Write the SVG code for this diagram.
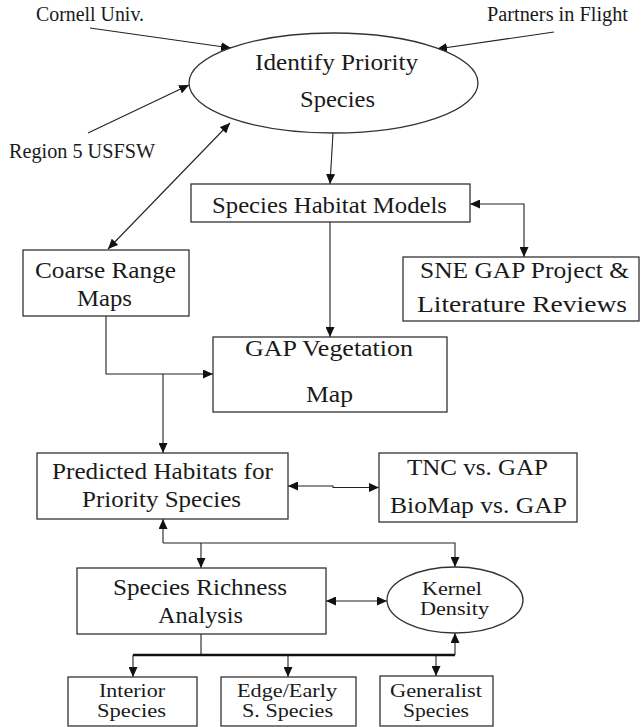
<svg xmlns="http://www.w3.org/2000/svg" width="641" height="727" viewBox="0 0 641 727">
<style>
.bx{fill:#fff;stroke:#333;stroke-width:1.3}
.c{fill:none;stroke:#222;stroke-width:1.1}
.b{fill:none;stroke:#111;stroke-width:2.6}
text{font-family:"Liberation Serif","Times New Roman",serif;fill:#1a1a1a}
.L{font-size:24px}
.M{font-size:18px}
.S{font-size:20px}
.K{font-size:18px}
</style>
<defs>
<marker id="ah" markerUnits="userSpaceOnUse" markerWidth="11" markerHeight="9" refX="10" refY="4.5" orient="auto-start-reverse">
<path d="M0,0 L10,4.5 L0,9 z" fill="#111"/>
</marker>
</defs>
<rect width="641" height="727" fill="#fff"/>

<g id="connectors">
<path class="c" d="M90,28 L231,48" marker-end="url(#ah)"/>
<path class="c" d="M554,32 L437,49" marker-end="url(#ah)"/>
<path class="c" d="M88,133 L189,85" marker-end="url(#ah)"/>
<path class="c" d="M108,249 L230,123" marker-start="url(#ah)" marker-end="url(#ah)"/>
<path class="c" d="M333,133 L330,184" marker-end="url(#ah)"/>
<path class="c" d="M470,204 H524 V257" marker-start="url(#ah)" marker-end="url(#ah)"/>
<path class="c" d="M330,222 V337" marker-end="url(#ah)"/>
<path class="c" d="M106,316 V374 H213" marker-end="url(#ah)"/>
<path class="c" d="M163,374 V453" marker-end="url(#ah)"/>
<path class="c" d="M288,486 H333 V487.5 H379" marker-start="url(#ah)" marker-end="url(#ah)"/>
<path class="c" d="M163,543 V519" marker-end="url(#ah)"/>
<path class="c" d="M163,543 H455 V567" marker-end="url(#ah)"/>
<path class="c" d="M201,543 V568" marker-end="url(#ah)"/>
<path class="c" d="M326,601 H387" marker-start="url(#ah)" marker-end="url(#ah)"/>
<path class="c" d="M201,634 V655"/>
<path class="b" d="M133,655 H455"/>
<path class="c" d="M455,655 V633" marker-end="url(#ah)"/>
<path class="c" d="M133,655 V677" marker-end="url(#ah)"/>
<path class="c" d="M288,655 V677" marker-end="url(#ah)"/>
<path class="c" d="M436,655 V676" marker-end="url(#ah)"/>
</g>

<g id="cornell"><text class="S" x="36" y="21" textLength="108" lengthAdjust="spacingAndGlyphs">Cornell Univ.</text></g>
<g id="partners"><text class="S" x="487" y="21" textLength="141" lengthAdjust="spacingAndGlyphs">Partners in Flight</text></g>
<g id="region5"><text class="S" x="9" y="158" textLength="146" lengthAdjust="spacingAndGlyphs">Region 5 USFSW</text></g>

<g id="identify">
<ellipse class="bx" cx="333.5" cy="83" rx="144.5" ry="50"/>
<text class="L" x="255" y="70" textLength="163" lengthAdjust="spacingAndGlyphs">Identify Priority</text>
<text class="L" x="300" y="107" textLength="75" lengthAdjust="spacingAndGlyphs">Species</text>
</g>

<g id="habitatModels">
<rect class="bx" x="191" y="184" width="279" height="38"/>
<text class="L" x="212" y="213" textLength="235" lengthAdjust="spacingAndGlyphs">Species Habitat Models</text>
</g>

<g id="coarse">
<rect class="bx" x="23" y="250" width="166" height="66"/>
<text class="L" x="35" y="278" textLength="141" lengthAdjust="spacingAndGlyphs">Coarse Range</text>
<text class="L" x="77" y="306" textLength="55" lengthAdjust="spacingAndGlyphs">Maps</text>
</g>

<g id="sne">
<rect class="bx" x="403" y="257" width="236" height="64"/>
<text class="L" x="420" y="278" textLength="209" lengthAdjust="spacingAndGlyphs">SNE GAP Project &amp;</text>
<text class="L" x="417" y="312" textLength="210" lengthAdjust="spacingAndGlyphs">Literature Reviews</text>
</g>

<g id="gapVeg">
<rect class="bx" x="213" y="337" width="234" height="75"/>
<text class="L" x="245" y="356" textLength="168" lengthAdjust="spacingAndGlyphs">GAP Vegetation</text>
<text class="L" x="306" y="402" textLength="47" lengthAdjust="spacingAndGlyphs">Map</text>
</g>

<g id="predicted">
<rect class="bx" x="37" y="453" width="251" height="66"/>
<text class="L" x="52" y="479" textLength="221" lengthAdjust="spacingAndGlyphs">Predicted Habitats for</text>
<text class="L" x="82" y="507" textLength="159" lengthAdjust="spacingAndGlyphs">Priority Species</text>
</g>

<g id="tnc">
<rect class="bx" x="379" y="453" width="198" height="69"/>
<text class="L" x="407" y="475" textLength="141" lengthAdjust="spacingAndGlyphs">TNC vs. GAP</text>
<text class="L" x="390" y="513" textLength="177" lengthAdjust="spacingAndGlyphs">BioMap vs. GAP</text>
</g>

<g id="richness">
<rect class="bx" x="77" y="568" width="249" height="66"/>
<text class="L" x="113" y="595" textLength="174" lengthAdjust="spacingAndGlyphs">Species Richness</text>
<text class="L" x="158" y="623" textLength="85" lengthAdjust="spacingAndGlyphs">Analysis</text>
</g>

<g id="kernel">
<ellipse class="bx" cx="455" cy="600" rx="68" ry="33"/>
<text class="K" x="422" y="595" textLength="60" lengthAdjust="spacingAndGlyphs">Kernel</text>
<text class="K" x="420" y="615" textLength="69" lengthAdjust="spacingAndGlyphs">Density</text>
</g>

<g id="interior">
<rect class="bx" x="68" y="677" width="129" height="49"/>
<text class="M" x="99" y="697" textLength="66" lengthAdjust="spacingAndGlyphs">Interior</text>
<text class="M" x="97" y="717" textLength="69" lengthAdjust="spacingAndGlyphs">Species</text>
</g>

<g id="edge">
<rect class="bx" x="221" y="677" width="135" height="49"/>
<text class="M" x="237" y="697" textLength="100" lengthAdjust="spacingAndGlyphs">Edge/Early</text>
<text class="M" x="242" y="717" textLength="91" lengthAdjust="spacingAndGlyphs">S. Species</text>
</g>

<g id="generalist">
<rect class="bx" x="380" y="676" width="113" height="50"/>
<text class="M" x="390" y="697" textLength="92" lengthAdjust="spacingAndGlyphs">Generalist</text>
<text class="M" x="403" y="717" textLength="66" lengthAdjust="spacingAndGlyphs">Species</text>
</g>
</svg>
